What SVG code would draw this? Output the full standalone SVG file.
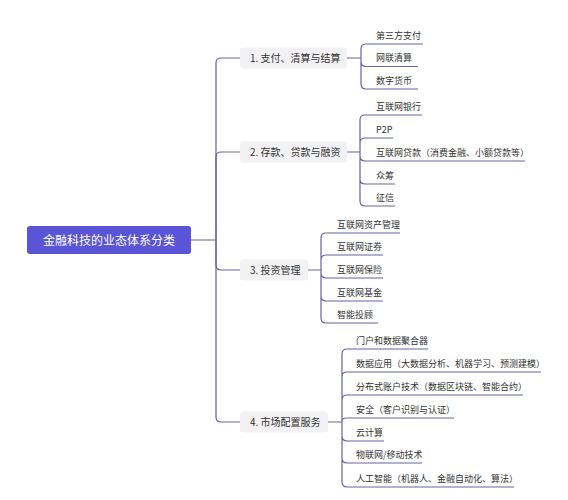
<svg xmlns="http://www.w3.org/2000/svg" width="568" height="500" viewBox="0 0 568 500">
<style>
text{font-family:"Noto Sans CJK SC","Noto Sans",sans-serif;fill:#333}
.root{fill:#5a54d6}
.rootT{fill:#fff;font-size:12px}
.br{fill:#f2f2f4}
.brT{font-size:10px}
.lf{font-size:9px}
.ln{fill:none;stroke:#6662a8;stroke-width:1.2}
</style>
<rect width="568" height="500" fill="#fff"/>
<g id="connectors" class="ln">
<path d="M191,240 H216 V63 Q216,58 221,58 H240"/>
<path d="M216,240 V157 Q216,152 221,152 H240"/>
<path d="M216,240 V265 Q216,270 221,270 H240"/>
<path d="M216,240 V417 Q216,422 221,422 H240"/>
<path d="M347,58 H361 M361,58 V49 Q361,44 366,44 H423 M361,58 V61.5 Q361,66.5 366,66.5 H418 M361,58 V84 Q361,89 366,89 H418"/>
<path d="M347,152 H360 M360,152 V120 Q360,115 365,115 H422 M360,152 V143 Q360,138 365,138 H393 M360,152 V156 Q360,161 365,161 H525 M360,152 V179 Q360,184 365,184 H395 M360,152 V201 Q360,206 365,206 H395"/>
<path d="M308,270 H321 M321,270 V238 Q321,233 326,233 H400 M321,270 V260 Q321,255 326,255 H383 M321,270 V273 Q321,278 326,278 H383 M321,270 V296 Q321,301 326,301 H383 M321,270 V318 Q321,323 326,323 H378"/>
<path d="M328,422 H342 M342,422 V354 Q342,349 347,349 H428 M342,422 V377 Q342,372 347,372 H541 M342,422 V400 Q342,395 347,395 H523 M342,422 V422 Q342,418 346,418 H454 M342,422 V436 Q342,441 347,441 H384 M342,422 V458 Q342,463 347,463 H422 M342,422 V482 Q342,487 347,487 H514"/>
</g>
<g id="root">
<rect class="root" x="27" y="226" width="164" height="28" rx="3"/>
<text class="rootT" x="109" y="244.6" text-anchor="middle">金融科技的业态体系分类</text>
</g>
<g id="b1">
<rect class="br" x="240" y="47.5" width="107" height="21" rx="3"/>
<text class="brT" x="250" y="61.8">1. 支付、清算与结算</text>
</g>
<g id="b2">
<rect class="br" x="240" y="141.5" width="107" height="21" rx="3"/>
<text class="brT" x="250" y="155.8">2. 存款、贷款与融资</text>
</g>
<g id="b3">
<rect class="br" x="240" y="259.5" width="68" height="21" rx="3"/>
<text class="brT" x="250" y="273.8">3. 投资管理</text>
</g>
<g id="b4">
<rect class="br" x="240" y="411.5" width="88" height="21" rx="3"/>
<text class="brT" x="250" y="425.8">4. 市场配置服务</text>
</g>
<g id="leaves1" class="lf">
<text class="lf" x="376" y="38.5">第三方支付</text>
<text class="lf" x="376" y="61">网联清算</text>
<text class="lf" x="376" y="83.5">数字货币</text>
</g>
<g id="leaves2">
<text class="lf" x="376" y="109.5">互联网银行</text>
<text class="lf" x="376" y="132.5">P2P</text>
<text class="lf" x="376" y="155.5">互联网贷款（消费金融、小额贷款等）</text>
<text class="lf" x="376" y="178.5">众筹</text>
<text class="lf" x="376" y="200.5">征信</text>
</g>
<g id="leaves3">
<text class="lf" x="337" y="227.5">互联网资产管理</text>
<text class="lf" x="337" y="249.5">互联网证券</text>
<text class="lf" x="337" y="272.5">互联网保险</text>
<text class="lf" x="337" y="295.5">互联网基金</text>
<text class="lf" x="337" y="317.5">智能投顾</text>
</g>
<g id="leaves4">
<text class="lf" x="356" y="343.5">门户和数据聚合器</text>
<text class="lf" x="356" y="366.5">数据应用（大数据分析、机器学习、预测建模）</text>
<text class="lf" x="356" y="389.5">分布式账户技术（数据区块链、智能合约）</text>
<text class="lf" x="356" y="412.5">安全（客户识别与认证）</text>
<text class="lf" x="356" y="435.5">云计算</text>
<text class="lf" x="356" y="457.5">物联网/移动技术</text>
<text class="lf" x="356" y="481.5">人工智能（机器人、金融自动化、算法）</text>
</g>
</svg>
